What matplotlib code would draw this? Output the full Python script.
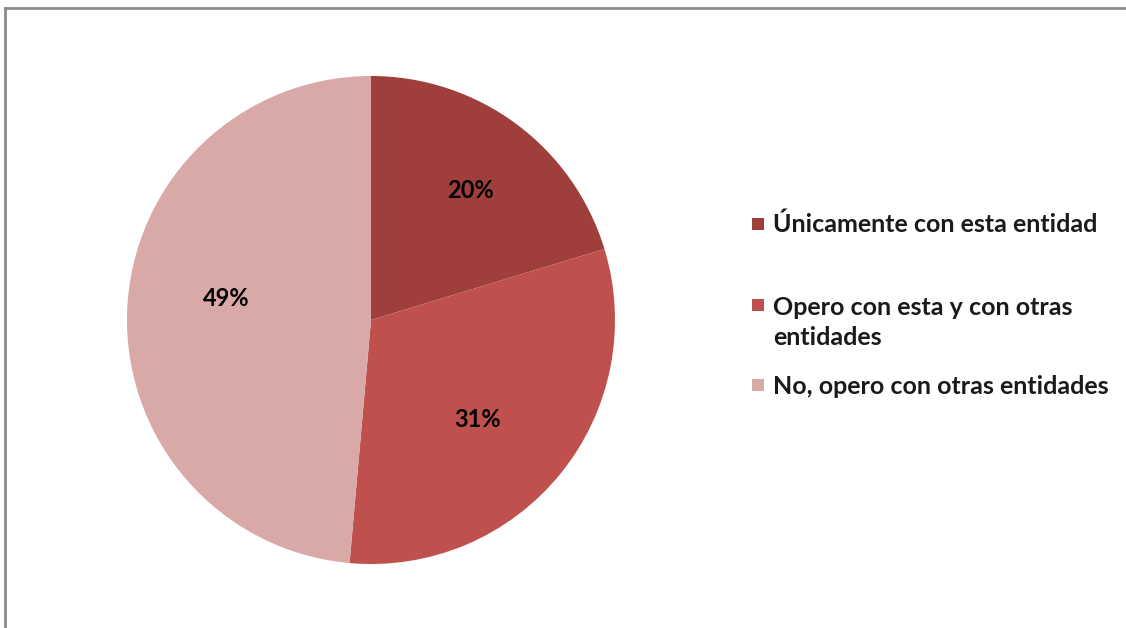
import numpy as np
import matplotlib.pyplot as plt
from matplotlib.lines import Line2D
from matplotlib.patches import Rectangle

categorias = ['Únicamente con esta entidad',
              'Opero con esta y con otras\nentidades',
              'No, opero con otras entidades']
porcentajes = [20.3, 31.1, 48.6]
colores = ['#9E3F3C', '#C0504D', '#D9A9A8']

plt.rcParams['font.family'] = ['Lato', 'DejaVu Sans']

fig = plt.figure(figsize=(11.26, 6.28), dpi=100)
W, H = 1126, 628

# borde gris del gráfico (arriba e izquierda)
fig.add_artist(Line2D([5 / W, 5 / W], [0, 1 - 8 / H], transform=fig.transFigure,
                      color='#8c8c8c', lw=2))
fig.add_artist(Line2D([5 / W, 1], [1 - 8 / H, 1 - 8 / H], transform=fig.transFigure,
                      color='#8c8c8c', lw=2))

cx, cy, r = 371, 320, 244
ax = fig.add_axes([(cx - r) / W, (H - cy - r) / H, 2 * r / W, 2 * r / H])
wedges, texts, autotexts = ax.pie(porcentajes, colors=colores, startangle=90,
                                  counterclock=False, autopct='%.0f%%',
                                  radius=1.0, wedgeprops=dict(linewidth=0))
# distancia radial de cada etiqueta, como las coloca Excel
dist = [0.67, 0.60, 0.60]
giro = [-1, -4, -6]  # pequeño giro angular (grados)
for w, t, d, g in zip(wedges, autotexts, dist, giro):
    ang = np.deg2rad((w.theta1 + w.theta2) / 2 + g)
    t.set_position((d * np.cos(ang), d * np.sin(ang)))
    t.set_fontsize(17)
    t.set_fontweight('bold')
    t.set_color('black')
ax.set_xlim(-1, 1)
ax.set_ylim(-1, 1)
ax.set_aspect('equal')

# leyenda a mano (espaciado irregular como en el original)
leg_cuadro = [224, 305, 385]
leg_base = [232, 345, 394]  # línea base de la última línea de cada texto
for yc, yb, lab, col in zip(leg_cuadro, leg_base, categorias, colores):
    fig.add_artist(Rectangle((752 / W, 1 - (yc + 6) / H), 12 / W, 12 / H,
                             transform=fig.transFigure, color=col, lw=0))
    fig.text(773 / W, 1 - yb / H, lab, ha='left', va='baseline',
             fontsize=18, fontweight='bold', color='#1a1a1a', linespacing=1.36)

fig.savefig('out.png', dpi=100)
